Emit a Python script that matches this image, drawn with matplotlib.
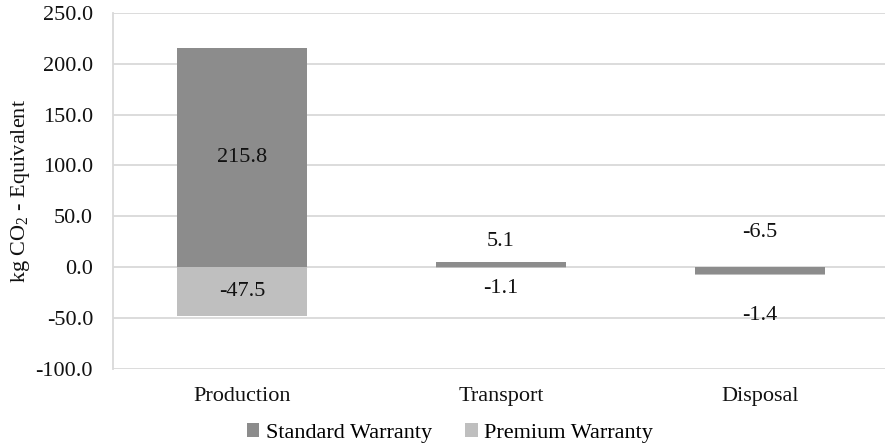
import matplotlib
matplotlib.use("Agg")
import matplotlib.pyplot as plt
import numpy as np

plt.rcParams["font.family"] = ["Liberation Serif", "DejaVu Serif"]
plt.rcParams["mathtext.fontset"] = "custom"
plt.rcParams["mathtext.rm"] = "Liberation Serif"

categories = ["Production", "Transport", "Disposal"]
standard = [215.8, 5.1, -6.5]
premium = [-47.5, -1.1, -1.4]
yticks = [-100, -50, 0, 50, 100, 150, 200, 250]

# label anchor heights (data units) for each value label
std_label_y = [107.9, 25.0, 34.0]
prem_label_y = [-23.75, -21.0, -47.0]

c_std = "#8c8c8c"
c_prem = "#bfbfbf"
c_grid = "#d9d9d9"
c_text = "#111111"
fs = 16

fig = plt.figure(figsize=(8.85, 4.47), dpi=100)
ax = fig.add_axes([112.5 / 885, 78 / 447, 777 / 885, 356.3 / 447])

x = np.arange(len(categories))
std = np.array(standard)
prem = np.array(premium)
# stack each premium segment on the far end of the standard segment when both are negative
prem_base = np.where((std < 0) & (prem < 0), std, 0.0)

ax.bar(x, std, width=0.505, color=c_std, label="Standard Warranty", zorder=3)
ax.bar(x, prem, width=0.505, bottom=prem_base, color=c_prem, label="Premium Warranty", zorder=3)

for i in range(len(categories)):
    ax.text(x[i], std_label_y[i], f"{standard[i]:.1f}", ha="center", va="center", fontsize=fs, color=c_text, zorder=4)
    ax.text(x[i], prem_label_y[i], f"{premium[i]:.1f}", ha="center", va="center", fontsize=fs, color=c_text, zorder=4)

ax.set_xlim(-0.5, 2.5)
ax.set_ylim(-100, 250)
ax.set_yticks(yticks)
ax.set_yticklabels([f"{v:.1f}" for v in yticks], fontsize=fs, color=c_text)
ax.set_xticks(x)
ax.set_xticklabels(categories, fontsize=fs, color=c_text)
ax.tick_params(axis="y", length=0, pad=14)
ax.tick_params(axis="x", length=0, pad=13)
ax.yaxis.grid(True, color=c_grid, linewidth=1.3, zorder=0)
ax.set_axisbelow(True)
for side in ["top", "bottom", "right"]:
    ax.spines[side].set_visible(False)
ax.spines["left"].set_color(c_grid)
ax.spines["left"].set_linewidth(1.3)

ax.set_ylabel("kg CO$_2$ - Equivalent", fontsize=fs, color=c_text)
ax.yaxis.set_label_coords(-0.1036, 0.5)

fig.legend(loc="center", bbox_to_anchor=(450 / 885, 1 - 433 / 447), ncol=2, frameon=False,
           fontsize=fs, handlelength=0.55, handleheight=0.55, handletextpad=0.3, columnspacing=1.5)

fig.savefig("out.png", dpi=100)
